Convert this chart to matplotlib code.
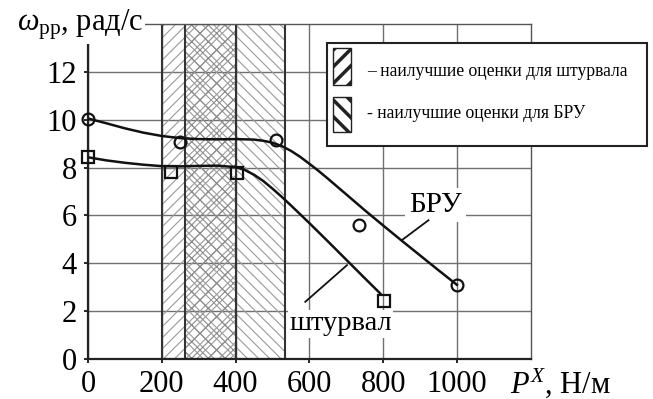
import matplotlib
matplotlib.use("Agg")
import matplotlib.pyplot as plt
from matplotlib.patches import Rectangle
import numpy as np

plt.rcParams['font.family'] = ['Liberation Serif', 'DejaVu Serif']
plt.rcParams['mathtext.fontset'] = 'custom'
plt.rcParams['mathtext.rm'] = 'Liberation Serif'
plt.rcParams['mathtext.it'] = 'Liberation Serif:italic'
plt.rcParams['hatch.linewidth'] = 0.8

# ---- data ----
bru_x = [0, 250, 510, 735, 1000]
bru_y = [10.05, 9.07, 9.14, 5.6, 3.1]
sht_x = [0, 224, 403, 801]
sht_y = [8.43, 7.82, 7.78, 2.43]

# trend curves
bru_curve_x = [0, 50, 100, 150, 200, 250, 300, 350, 400, 450, 475, 500, 525, 550, 575, 600,
               625, 650, 700, 750, 800, 850, 900, 950, 1000]
bru_curve_y = [10.05, 9.85, 9.64, 9.46, 9.32, 9.23, 9.19, 9.18, 9.19, 9.17, 9.12, 9.04, 8.9,
               8.7, 8.45, 8.16, 7.86, 7.54, 6.88, 6.22, 5.58, 4.95, 4.33, 3.71, 3.1]
sht_curve_x = [0, 50, 100, 150, 200, 250, 300, 350, 400, 425, 450, 475, 500, 525, 550, 600,
               650, 700, 750, 792]
sht_curve_y = [8.43, 8.3, 8.2, 8.12, 8.06, 8.05, 8.07, 8.08, 8.02, 7.9, 7.7, 7.44, 7.12, 6.78,
               6.42, 5.68, 4.92, 4.15, 3.38, 2.74]

# zones of best estimates
sht_zone = (200, 400)
bru_zone = (263, 535)

xticks = [0, 200, 400, 600, 800, 1000]
yticks = [0, 2, 4, 6, 8, 10, 12]

fig = plt.figure(figsize=(6.53, 3.99), dpi=100)
ax = fig.add_axes([88/653, 40/399, 442.7/653, 335/399])
ax.set_xlim(0, 1200)
ax.set_ylim(0, 14)

ax.set_xticks(xticks)
ax.set_yticks(yticks)
ax.tick_params(direction='out', length=3, width=1.2, labelsize=22)
ax.tick_params(axis='y', pad=5)
ax.tick_params(axis='x', pad=5)
ax.grid(True, color='#707070', lw=1.0)
ax.set_axisbelow(True)
for s in ['left', 'bottom']:
    ax.spines[s].set_linewidth(1.6)
    ax.spines[s].set_color('#222222')
for s in ['top', 'right']:
    ax.spines[s].set_linewidth(1.0)
    ax.spines[s].set_color('#555555')

# hatched zones
h1 = Rectangle((sht_zone[0], 0), sht_zone[1]-sht_zone[0], 14, facecolor='none',
               edgecolor='#9a9a9a', hatch='///', lw=0, zorder=1)
h2 = Rectangle((bru_zone[0], 0), bru_zone[1]-bru_zone[0], 14, facecolor='none',
               edgecolor='#9a9a9a', hatch='\\\\\\', lw=0, zorder=1)
h3 = Rectangle((bru_zone[0], 0), sht_zone[1]-bru_zone[0], 14, facecolor='none',
               edgecolor='#8a8a8a', hatch='xx', lw=0, zorder=1)
for h in (h1, h2, h3):
    ax.add_patch(h)
ax.add_patch(Rectangle((sht_zone[0], 0), bru_zone[1]-sht_zone[0], 14, facecolor='none',
                       edgecolor='#333333', lw=1.5, zorder=2))
ax.add_patch(Rectangle((bru_zone[0], 0), sht_zone[1]-bru_zone[0], 14, facecolor='none',
                       edgecolor='#333333', lw=1.5, zorder=2))

# curves and points
ax.plot(bru_curve_x, bru_curve_y, color='#111111', lw=1.8, zorder=3)
ax.plot(sht_curve_x, sht_curve_y, color='#111111', lw=1.8, zorder=3)
ax.plot(bru_x, bru_y, 'o', ms=8.5, mfc='none', mec='#111111', mew=1.6, zorder=7, clip_on=False)
ax.plot(sht_x, sht_y, 's', ms=8.5, mfc='none', mec='#111111', mew=1.6, zorder=7, clip_on=False)

# curve labels
ax.text(942, 6.43, 'БРУ', fontsize=21, ha='center', va='center', zorder=5,
        bbox=dict(facecolor='white', edgecolor='none', pad=3))
ax.plot([923, 851], [5.8, 4.97], color='#111111', lw=1.3, zorder=6)
ax.text(684, 1.48, 'штурвал', fontsize=20.5, ha='center', va='center', zorder=5,
        bbox=dict(facecolor='white', edgecolor='none', pad=1))
ax.plot([702, 589], [3.92, 2.39], color='#111111', lw=1.3, zorder=6)

# overlay in pixel coordinates for labels and legend
ov = fig.add_axes([0, 0, 1, 1], facecolor='none')
ov.set_xlim(0, 653)
ov.set_ylim(399, 0)
ov.axis('off')

ov.text(17, 25, r'$\omega_{\mathrm{рр}}$, рад/с', fontsize=22, ha='left', va='center',
        bbox=dict(facecolor='white', edgecolor='none', pad=1))
ov.text(510, 383, r'$P^{X}$, Н/м', fontsize=22, ha='left', va='center')

ov.add_patch(Rectangle((327, 43), 320, 103, facecolor='white', edgecolor='#222222', lw=1.5))
with plt.rc_context({'hatch.linewidth': 2.5}):
    p1 = Rectangle((333, 48), 18, 37, facecolor='white', edgecolor='#222222', hatch='//', lw=1.0)
    p2 = Rectangle((333, 97), 18, 35, facecolor='white', edgecolor='#222222', hatch='\\\\', lw=1.0)
for p in (p1, p2):
    if hasattr(p, 'set_hatch_linewidth'):
        p.set_hatch_linewidth(2.5)
    else:
        p._hatch_linewidth = 2.5
    ov.add_patch(p)
ov.text(367, 72, '‒ наилучшие оценки для штурвала', fontsize=12.7, ha='left', va='center')
ov.text(367, 113, '- наилучшие оценки для БРУ', fontsize=12.7, ha='left', va='center')

fig.savefig('out.png', dpi=100)
